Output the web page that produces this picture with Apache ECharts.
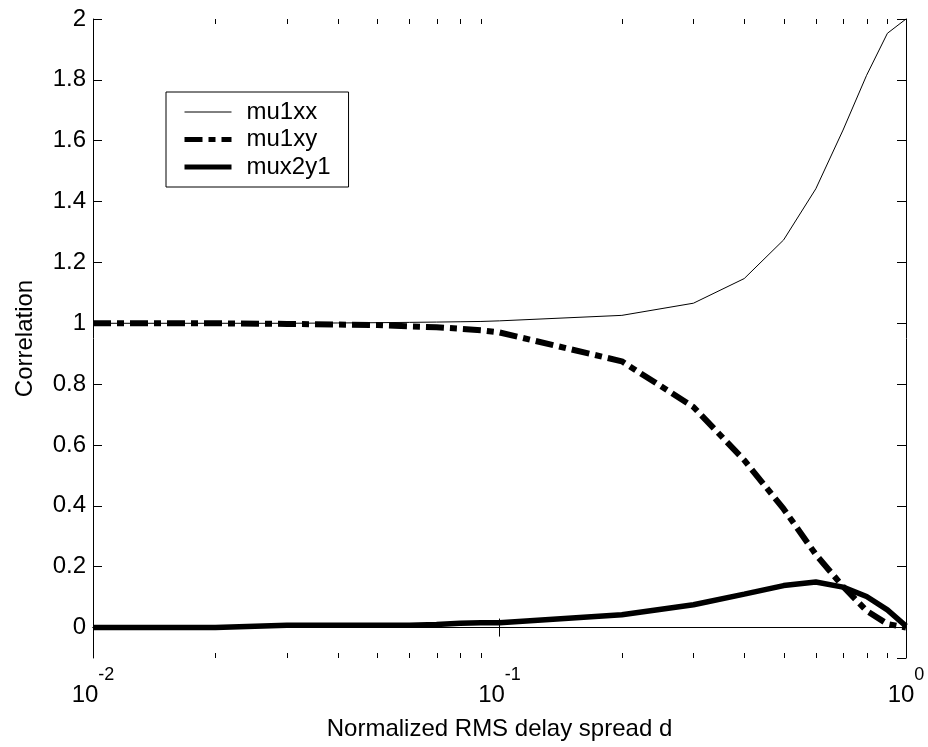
<!DOCTYPE html>
<html>
<head>
<meta charset="utf-8">
<script src="https://cdn.jsdelivr.net/npm/echarts@6/dist/echarts.min.js"></script>
<style>
  html, body { margin: 0; padding: 0; background: #fff; }
  #chart { width: 928px; height: 747px; }
</style>
</head>
<body>
<div id="chart"></div>
<script>
// normalized RMS delay spread d (log axis)
const dValues = [0.01, 0.02, 0.03, 0.04, 0.05, 0.06, 0.07, 0.08, 0.09, 0.1,
  0.2, 0.3, 0.4, 0.5, 0.6, 0.7, 0.8, 0.9, 1]
const mu1xx = [1.0, 1.0, 1.0, 1.001, 1.002, 1.003, 1.004, 1.005, 1.006, 1.008,
  1.026, 1.066, 1.147, 1.274, 1.442, 1.635, 1.815, 1.953, 2.0]
const mu1xy = [1.0, 1.0, 0.998, 0.996, 0.994, 0.99, 0.987, 0.982, 0.977, 0.97,
  0.875, 0.725, 0.55, 0.39, 0.24, 0.135, 0.055, 0.012, 0.0]
const mux2y1 = [0.0, 0.0, 0.008, 0.008, 0.008, 0.008, 0.01, 0.014, 0.016, 0.016,
  0.042, 0.075, 0.11, 0.138, 0.15, 0.133, 0.102, 0.058, 0.005]
// minor ticks of the log axis
const minorTicks = [0.02, 0.03, 0.04, 0.05, 0.06, 0.07, 0.08, 0.09,
  0.2, 0.3, 0.4, 0.5, 0.6, 0.7, 0.8, 0.9]

const font = 'Liberation Sans, Arial, sans-serif'
const chart = echarts.init(document.getElementById('chart'), null, { renderer: 'canvas' })

const pairs = arr => dValues.map((d, i) => [d, arr[i]])

const xBase = {
  type: 'log',
  logBase: 10,
  min: 0.01,
  max: 1,
  axisLine: { show: true, lineStyle: { color: '#000', width: 1 } },
  axisTick: { show: true, inside: true, length: 9, lineStyle: { color: '#000' } },
  splitLine: { show: false },
}
const yBase = {
  type: 'value',
  min: -0.1,
  max: 2,
  splitNumber: 10,
  axisLine: { show: true, lineStyle: { color: '#000', width: 1 } },
  axisTick: { show: true, inside: true, length: 9, lineStyle: { color: '#000' } },
  splitLine: { show: false },
}

const option = {
  animation: false,
  backgroundColor: '#fff',
  grid: { left: 93, right: 22, top: 19, bottom: 89 },
  legend: {
    left: 166,
    top: 92,
    orient: 'vertical',
    data: [
      { name: 'mu1xx', lineStyle: { width: 1, color: '#000' } },
      { name: 'mu1xy', lineStyle: { width: 5, color: '#000', type: [18, 6, 7, 6] } },
      { name: 'mux2y1', lineStyle: { width: 5, color: '#000' } },
    ],
    itemWidth: 47,
    itemHeight: 24,
    itemGap: 3.5,
    padding: [8, 18, 8, 16],
    borderColor: '#000',
    borderWidth: 1,
    backgroundColor: '#fff',
    selectedMode: false,
    itemStyle: { opacity: 0, borderWidth: 0, color: 'transparent' },
    textStyle: { fontFamily: font, fontSize: 24, color: '#000', lineHeight: 24, padding: [0, 0, 0, 10] },
  },
  xAxis: [
    Object.assign({}, xBase, {
      position: 'bottom',
      name: 'Normalized RMS delay spread d',
      nameLocation: 'middle',
      nameGap: 59,
      nameTextStyle: { fontFamily: font, fontSize: 24, color: '#000' },
      axisLabel: {
        margin: 8,
        color: '#000',
        formatter: v => '{b|10}{s|' + Math.round(Math.log10(v)) + '}',
        rich: {
          b: { fontFamily: font, fontSize: 24, color: '#000' },
          s: { fontFamily: font, fontSize: 18, color: '#000', padding: [0, 0, 40, 0] },
        },
      },
    }),
    Object.assign({}, xBase, { position: 'top', axisLabel: { show: false } }),
  ],
  yAxis: [
    Object.assign({}, yBase, {
      position: 'left',
      name: 'Correlation',
      nameLocation: 'middle',
      nameGap: 56,
      nameTextStyle: { fontFamily: font, fontSize: 24, color: '#000' },
      axisLabel: { showMinLabel: false, margin: 7, fontFamily: font, fontSize: 24, color: '#000' },
    }),
    Object.assign({}, yBase, { position: 'right', axisLabel: { show: false } }),
  ],
  series: [
    {
      name: 'mu1xx',
      type: 'line',
      data: pairs(mu1xx),
      symbol: 'none',
      lineStyle: { color: '#000', width: 1 },
      itemStyle: { color: '#000' },
      z: 3,
    },
    {
      name: 'mu1xy',
      type: 'line',
      data: pairs(mu1xy),
      symbol: 'none',
      lineStyle: { color: '#000', width: 6, type: [18, 6, 7, 6] },
      itemStyle: { color: '#000' },
      z: 4,
    },
    {
      name: 'mux2y1',
      type: 'line',
      data: pairs(mux2y1),
      symbol: 'none',
      lineStyle: { color: '#000', width: 5.5 },
      itemStyle: { color: '#000' },
      z: 5,
    },
    {
      // short inward minor ticks on bottom and top of the box
      type: 'custom',
      silent: true,
      data: minorTicks.map(v => [v, 0]),
      encode: { x: 0, y: 1 },
      z: 6,
      renderItem: (params, api) => {
        const x = Math.round(api.coord([api.value(0), 0])[0]) + 0.5
        const top = params.coordSys.y
        const bottom = params.coordSys.y + params.coordSys.height
        const st = { stroke: '#000', lineWidth: 1 }
        return {
          type: 'group',
          children: [
            { type: 'line', shape: { x1: x, y1: bottom, x2: x, y2: bottom - 5 }, style: st },
            { type: 'line', shape: { x1: x, y1: top, x2: x, y2: top + 5 }, style: st },
          ],
        }
      },
    },
  ],
}

chart.setOption(option)
</script>
</body>
</html>
